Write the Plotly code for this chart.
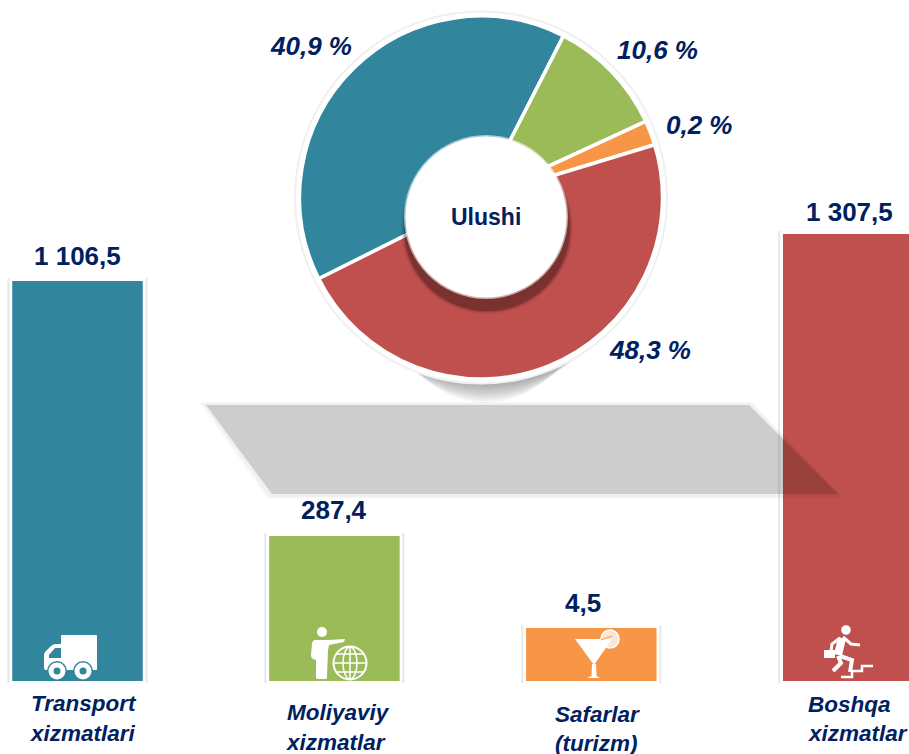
import plotly.graph_objects as go

# ---------- data ----------
categories = ["Transport xizmatlari", "Moliyaviy xizmatlar", "Safarlar (turizm)", "Boshqa xizmatlar"]
value_labels = ["1 106,5", "287,4", "4,5", "1 307,5"]
bar_heights = [400, 145, 53, 447]          # drawn heights
share_labels = ["40,9 %", "10,6 %", "0,2 %", "48,3 %"]
slice_sizes = [39.9, 10.6, 2.2, 47.3]      # drawn slice sizes
centre_label = "Ulushi"

# ---------- styles ----------
COLORS = ["#31859C", "#9BBB59", "#F79646", "#C0504D"]
NAVY = "#002060"
FONT = "Liberation Sans, Arial, sans-serif"
W, H = 909, 754
BASE = 681
SPACING = 256.9
C0 = 77.5
BAR_W = 130.5

fig = go.Figure()


def frame(width, color, pad):
    fig.add_trace(go.Bar(x=categories, y=[h + pad + 2 for h in bar_heights], base=-2,
                         width=width / SPACING, marker=dict(color=color, line_width=0),
                         hoverinfo="skip", showlegend=False))


frame(140, "#E8E8E8", 3)
frame(136, "#FFFFFF", 4)
fig.add_trace(go.Bar(x=categories, y=bar_heights, width=BAR_W / SPACING,
                     marker=dict(color=COLORS, line_width=0),
                     customdata=value_labels, hovertemplate="%{x}: %{customdata}<extra></extra>",
                     showlegend=False))

# pixel-space helper axes for decoration
fig.add_trace(go.Scatter(x=[0], y=[0], xaxis="x2", yaxis="y2", mode="markers",
                         marker_opacity=0, hoverinfo="skip", showlegend=False))

PIE_C = (481, 197.5)
PIE_R = 181.5
fig.add_trace(go.Pie(labels=categories, values=slice_sizes, sort=False, direction="clockwise",
                     rotation=243.4, marker=dict(colors=COLORS, line=dict(color="white", width=3.5)),
                     textinfo="none", hole=0, showlegend=False,
                     domain=dict(x=[(PIE_C[0] - PIE_R) / W, (PIE_C[0] + PIE_R) / W],
                                 y=[1 - (PIE_C[1] + PIE_R) / H, 1 - (PIE_C[1] - PIE_R) / H])))

shapes = []


def circle(cx, cy, r, fill="white", line=None, lw=0, layer="above", ry=None):
    ry = r if ry is None else ry
    shapes.append(dict(type="circle", xref="x2", yref="y2", x0=cx - r, x1=cx + r, y0=cy - ry, y1=cy + ry,
                       fillcolor=fill, line=dict(color=line or "rgba(0,0,0,0)", width=lw), layer=layer))


def path(d, fill="white", line=None, lw=0, layer="above"):
    shapes.append(dict(type="path", path=d, xref="x2", yref="y2", fillcolor=fill,
                       line=dict(color=line or "rgba(0,0,0,0)", width=lw), layer=layer))


def poly(pts, fill="white", line=None, lw=0, close=True, layer="above"):
    d = "M" + " L".join(f"{x},{y}" for x, y in pts) + (" Z" if close else "")
    path(d, fill if close else "rgba(0,0,0,0)", line, lw, layer)


# pie shadow and rim (under the pie): many faint layers give a soft edge
for i in range(10):
    bottom = 403 - i * 2
    half = 120 + i * 5
    cy = (bottom + 60) / 2
    circle(486, cy, half, fill="rgba(0,0,0,0.035)", layer="below", ry=(bottom - 60) / 2)
circle(PIE_C[0], PIE_C[1], 187, fill="#F0F0F0", layer="below")
circle(PIE_C[0], PIE_C[1], 185, fill="#FFFFFF", layer="below")

# hub shadow and hub
for r, dy, a in [(86, 11, 0.05), (85, 11, 0.07), (84, 11, 0.09), (83, 11, 0.20)]:
    circle(487, 217 + dy, r, fill=f"rgba(0,0,0,{a})")
circle(486, 217, 82, fill="rgba(255,255,255,0.6)")
circle(486, 217, 80.5, fill="#FFFFFF")

# grey band, soft edge then core
poly([(199, 402), (752, 402), (845, 499), (267, 499)], fill="rgba(0,0,0,0.025)")
poly([(202, 403), (751, 403), (842, 497), (269, 497)], fill="rgba(0,0,0,0.035)")
poly([(206, 405), (749, 405), (838, 494), (272, 494)], fill="rgba(0,0,0,0.145)")

# truck icon
teal = COLORS[0]
path("M61,636 Q61,635 62,635 L96,635 Q97,635 97,636 L97,669 Q97,670 96,670 L61,670 Z")
path("M61,644 L56,644 Q53,644 51,646 L45,652 Q44,653 44,656 L44,668 Q44,670 46,670 L61,670 Z")
poly([(61, 648), (55, 648), (49, 655), (49, 658), (61, 658)], fill=teal)
for cx in (57, 83):
    circle(cx, 671, 10, fill=teal)
    circle(cx, 671, 8.5)
    circle(cx, 671, 3.5, fill=teal)

# person and globe icon
green = COLORS[1]
circle(322, 632, 5)
path("M315,640 Q313,640 312,643 L311,655 Q311,658 313,659 L316,660 L316,678 Q316,679 318,679 "
     "L326,679 Q327,679 327,677 L328,650 L329,645 L344,642 L345,639 L329,640 Z")
circle(350, 663, 16.5, fill=green, line="white", lw=2)
circle(350, 663, 7, fill="rgba(0,0,0,0)", line="white", lw=1.5, ry=16)
poly([(350, 647), (350, 679)], line="white", lw=1.5, close=False)
poly([(334, 663), (366, 663)], line="white", lw=1.5, close=False)
poly([(337, 654), (363, 654)], line="white", lw=1.5, close=False)
poly([(337, 672), (363, 672)], line="white", lw=1.5, close=False)

# cocktail icon
orange = COLORS[2]
circle(610, 639, 9, fill="#FCE6D3", line="white", lw=1.5)
poly([(575, 639), (612, 639), (594, 665)])
poly([(592, 664), (596, 664), (596.5, 676), (600, 678), (587, 678), (591.5, 676)])
poly([(601, 640), (612, 636)], line=orange, lw=1, close=False)

# runner icon
circle(846, 630, 4.8)
poly([(842, 638), (838, 655)], line="white", lw=8, close=False)
poly([(843, 637), (851, 644), (860, 645)], line="white", lw=3, close=False)
poly([(840, 638), (832, 644), (831, 651)], line="white", lw=3, close=False)
poly([(824, 650), (835, 650), (835, 658), (824, 658)])
poly([(838, 656), (841, 663), (833, 671)], line="white", lw=4, close=False)
poly([(840, 656), (852, 660), (850, 672)], line="white", lw=4, close=False)
poly([(841, 677), (852, 677), (852, 671), (862, 671), (862, 666), (873, 666)],
     line="white", lw=2.5, close=False)

# ---------- texts ----------
annotations = []


def text(s, x, y, size, color=NAVY):
    annotations.append(dict(text=s, x=x, y=y, xref="x2", yref="y2", showarrow=False,
                            xanchor="center", yanchor="middle",
                            font=dict(family=FONT, size=size, color=color)))


value_pos = [(77.5, 256), (334, 510), (583, 603), (849, 212)]
for s, (x, y) in zip(value_labels, value_pos):
    text(f"<b>{s}</b>", x, y, 26)

share_pos = [(311, 46), (657, 50), (699, 125), (650, 350)]
for s, (x, y) in zip(share_labels, share_pos):
    text(f"<b><i>{s}</i></b>", x, y, 26)

text(f"<b>{centre_label}</b>", 486, 217, 23)

line_pos = [[(83.5, 703), (83, 733)], [(338, 712), (336, 742)],
            [(597, 714), (596, 743)], [(849, 704), (858, 733)]]
for cat, (p1, p2) in zip(categories, line_pos):
    first, second = cat.split(" ", 1)
    text(f"<b><i>{first}</i></b>", p1[0], p1[1], 22.5)
    text(f"<b><i>{second}</i></b>", p2[0], p2[1], 22.5)

fig.update_layout(
    width=W, height=H, autosize=False, margin=dict(l=0, r=0, t=0, b=0),
    paper_bgcolor="white", plot_bgcolor="rgba(0,0,0,0)", barmode="overlay",
    showlegend=False,
    xaxis=dict(visible=False, type="category", categoryorder="array", categoryarray=categories,
               range=[-C0 / SPACING, (W - C0) / SPACING], domain=[0, 1], fixedrange=True),
    yaxis=dict(visible=False, range=[BASE - H, BASE], domain=[0, 1], fixedrange=True),
    xaxis2=dict(visible=False, overlaying="x", range=[0, W], domain=[0, 1], fixedrange=True),
    yaxis2=dict(visible=False, overlaying="y", range=[H, 0], domain=[0, 1], fixedrange=True),
    shapes=shapes, annotations=annotations,
)

fig.write_html("out.html", config=dict(displayModeBar=False),
               post_script="document.body.style.margin='0';document.body.style.overflow='hidden';")
